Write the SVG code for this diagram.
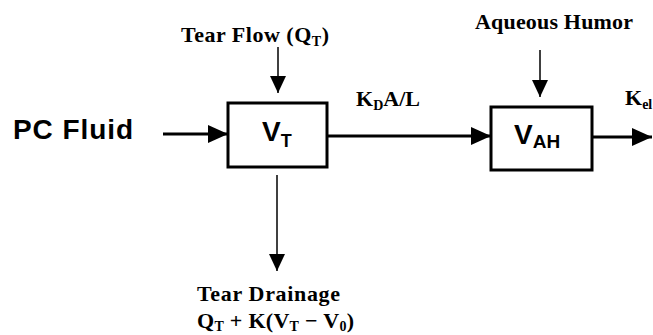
<svg xmlns="http://www.w3.org/2000/svg" width="653" height="335" viewBox="0 0 653 335">
<style>
.bg{fill:#fff}
.box{fill:#fff;stroke:#000;stroke-width:3}
.thick{stroke:#000;stroke-width:3;fill:none}
.thin{stroke:#000;stroke-width:1.5;fill:none}
.lbl{font-family:"Liberation Serif","Times New Roman",serif;font-weight:bold;font-size:22px;fill:#000}
.sub{font-size:14px}
.sans{font-family:"Liberation Sans",Arial,sans-serif;font-weight:bold;fill:#000}
</style>
<defs>
<marker id="big" markerUnits="userSpaceOnUse" markerWidth="22" markerHeight="20" refX="20" refY="9" orient="auto">
<path d="M0,0 L20,9 L0,18 Z" fill="#000"/>
</marker>
<marker id="small" markerUnits="userSpaceOnUse" markerWidth="19" markerHeight="18" refX="17" refY="8" orient="auto">
<path d="M0,0 L17,8 L0,16 Z" fill="#000"/>
</marker>
</defs>
<rect class="bg" x="0" y="0" width="653" height="335"/>
<g id="connectors">
<line class="thick" x1="163" y1="134" x2="228" y2="134" marker-end="url(#big)"/>
<line class="thick" x1="327" y1="136" x2="491" y2="136" marker-end="url(#big)"/>
<line class="thick" x1="592" y1="137" x2="652" y2="137" marker-end="url(#big)"/>
<line class="thin" x1="278" y1="47" x2="278" y2="93" marker-end="url(#small)"/>
<line class="thin" x1="540" y1="50" x2="540" y2="97" marker-end="url(#small)"/>
<line class="thin" x1="277" y1="175" x2="277" y2="271" marker-end="url(#small)"/>
</g>
<g id="pc-fluid">
<text class="sans" x="13" y="139" font-size="28" textLength="120">PC Fluid</text>
</g>
<g id="vt">
<rect class="box" x="228" y="103" width="99" height="64"/>
<text class="sans" x="262" y="141" font-size="28">V<tspan font-size="18" dy="6">T</tspan></text>
</g>
<g id="vah">
<rect class="box" x="491" y="107" width="101" height="63"/>
<text class="sans" x="514" y="144" font-size="28">V<tspan font-size="19" dy="4">AH</tspan></text>
</g>
<g id="tear-flow">
<text class="lbl" x="181" y="42" textLength="148">Tear Flow (Q<tspan class="sub" dy="4">T</tspan><tspan dy="-4">)</tspan></text>
</g>
<g id="aqueous-humor">
<text class="lbl" x="475" y="29" textLength="158">Aqueous Humor</text>
</g>
<g id="kda-label">
<text class="lbl" x="356" y="106" textLength="64">K<tspan class="sub" dy="4">D</tspan><tspan dy="-4">A/L</tspan></text>
</g>
<g id="kel-label">
<text class="lbl" x="625" y="105">K<tspan class="sub" dy="4">el</tspan></text>
</g>
<g id="tear-drainage">
<text class="lbl" x="197" y="301" textLength="143">Tear Drainage</text>
<text class="lbl" x="197" y="328" textLength="157">Q<tspan class="sub" dy="3">T</tspan><tspan dy="-3"> + K(V</tspan><tspan class="sub" dy="3">T</tspan><tspan dy="-3"> − V</tspan><tspan class="sub" dy="3">0</tspan><tspan dy="-3">)</tspan></text>
</g>
</svg>
